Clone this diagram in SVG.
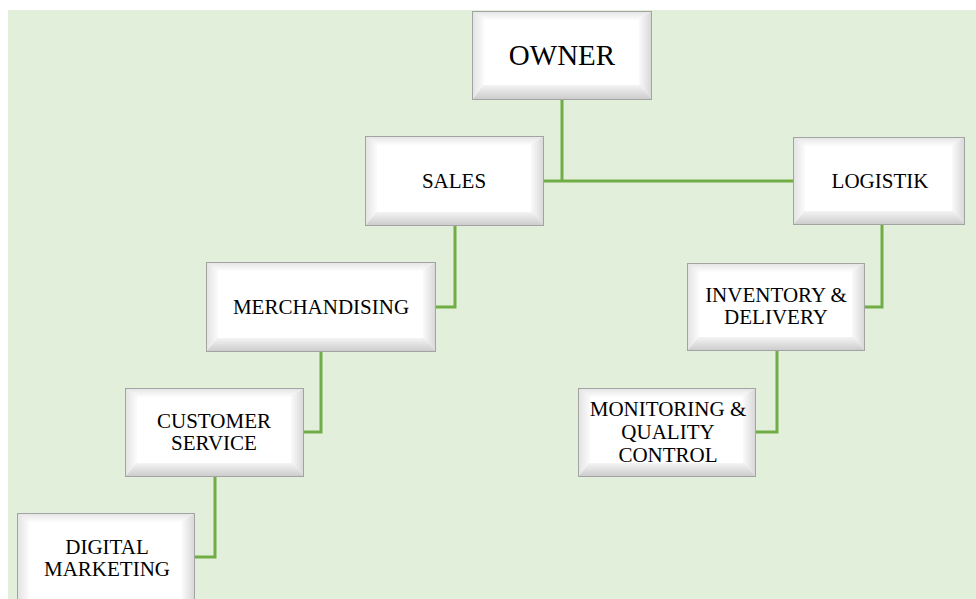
<svg xmlns="http://www.w3.org/2000/svg" width="976" height="599" viewBox="0 0 976 599">
<defs>
<linearGradient id="gTop" x1="0" y1="0" x2="0" y2="1"><stop offset="0" stop-color="#e6e6e6"/><stop offset="1" stop-color="#fdfdfd"/></linearGradient>
<linearGradient id="gBot" x1="0" y1="0" x2="0" y2="1"><stop offset="0" stop-color="#f4f4f4"/><stop offset="1" stop-color="#cdcdcd"/></linearGradient>
<linearGradient id="gLeft" x1="0" y1="0" x2="1" y2="0"><stop offset="0" stop-color="#e4e4e4"/><stop offset="1" stop-color="#fbfbfb"/></linearGradient>
<linearGradient id="gRight" x1="0" y1="0" x2="1" y2="0"><stop offset="0" stop-color="#fafafa"/><stop offset="1" stop-color="#d9d9d9"/></linearGradient>
</defs>
<style>
.bg{fill:#e2efda}
.frame{fill:#e0e0e0;stroke:#a3a3a3;stroke-width:1}
.top{fill:url(#gTop)}
.left{fill:url(#gLeft)}
.right{fill:url(#gRight)}
.bot{fill:url(#gBot)}
.face{fill:#ffffff}
.lbl{font-family:"Liberation Serif","Times New Roman",serif;font-size:21px;fill:#000;text-anchor:middle}
.big{font-size:29px}
.conn{fill:none;stroke:#70ad47;stroke-width:3}
</style>
<rect x="0" y="0" width="976" height="599" fill="#ffffff"/>
<rect class="bg" x="8" y="10" width="968" height="589"/>
<g id="connectors">
<path class="conn" d="M562 99V181M543 181H793"/>
<path class="conn" d="M455 226V307H435"/>
<path class="conn" d="M321 352V432H303"/>
<path class="conn" d="M215 477V557H195"/>
<path class="conn" d="M882 225V307H864"/>
<path class="conn" d="M777 351V432H755"/>
</g>
<g id="owner">
<rect class="frame" x="472.5" y="11.5" width="179" height="88"/>
<polygon class="top" points="473,12 651,12 639,20 484,20"/>
<polygon class="left" points="473,12 484,20 484,85 473,99"/>
<polygon class="right" points="651,12 651,99 639,85 639,20"/>
<polygon class="bot" points="473,99 484,85 639,85 651,99"/>
<rect class="face" x="484" y="20" width="155" height="65"/>
<text class="lbl big" x="562" y="65">OWNER</text>
</g>
<g id="sales">
<rect class="frame" x="365.5" y="136.5" width="178" height="89"/>
<polygon class="top" points="366,137 543,137 531,145 377,145"/>
<polygon class="left" points="366,137 377,145 377,212 366,225"/>
<polygon class="right" points="543,137 543,225 531,212 531,145"/>
<polygon class="bot" points="366,225 377,212 531,212 543,225"/>
<rect class="face" x="377" y="145" width="154" height="67"/>
<text class="lbl" x="454" y="188">SALES</text>
</g>
<g id="logistik">
<rect class="frame" x="793.5" y="137.5" width="171" height="87"/>
<polygon class="top" points="794,138 964,138 952,146 805,146"/>
<polygon class="left" points="794,138 805,146 805,211 794,224"/>
<polygon class="right" points="964,138 964,224 952,211 952,146"/>
<polygon class="bot" points="794,224 805,211 952,211 964,224"/>
<rect class="face" x="805" y="146" width="147" height="65"/>
<text class="lbl" x="880" y="188">LOGISTIK</text>
</g>
<g id="merchandising">
<rect class="frame" x="206.5" y="262.5" width="229" height="89"/>
<polygon class="top" points="207,263 435,263 423,271 218,271"/>
<polygon class="left" points="207,263 218,271 218,338 207,351"/>
<polygon class="right" points="435,263 435,351 423,338 423,271"/>
<polygon class="bot" points="207,351 218,338 423,338 435,351"/>
<rect class="face" x="218" y="271" width="205" height="67"/>
<text class="lbl" x="321" y="314">MERCHANDISING</text>
</g>
<g id="inventory">
<rect class="frame" x="687.5" y="263.5" width="177" height="87"/>
<polygon class="top" points="688,264 864,264 852,272 699,272"/>
<polygon class="left" points="688,264 699,272 699,337 688,350"/>
<polygon class="right" points="864,264 864,350 852,337 852,272"/>
<polygon class="bot" points="688,350 699,337 852,337 864,350"/>
<rect class="face" x="699" y="272" width="153" height="65"/>
<text class="lbl" x="776" y="302">INVENTORY &amp;</text>
<text class="lbl" x="776" y="324">DELIVERY</text>
</g>
<g id="customer-service">
<rect class="frame" x="125.5" y="388.5" width="178" height="88"/>
<polygon class="top" points="126,389 303,389 291,397 137,397"/>
<polygon class="left" points="126,389 137,397 137,463 126,476"/>
<polygon class="right" points="303,389 303,476 291,463 291,397"/>
<polygon class="bot" points="126,476 137,463 291,463 303,476"/>
<rect class="face" x="137" y="397" width="154" height="66"/>
<text class="lbl" x="214" y="428">CUSTOMER</text>
<text class="lbl" x="214" y="450">SERVICE</text>
</g>
<g id="monitoring">
<rect class="frame" x="578.5" y="388.5" width="177" height="88"/>
<polygon class="top" points="579,389 755,389 743,397 590,397"/>
<polygon class="left" points="579,389 590,397 590,463 579,476"/>
<polygon class="right" points="755,389 755,476 743,463 743,397"/>
<polygon class="bot" points="579,476 590,463 743,463 755,476"/>
<rect class="face" x="590" y="397" width="153" height="66"/>
<text class="lbl" x="668" y="416">MONITORING &amp;</text>
<text class="lbl" x="668" y="439">QUALITY</text>
<text class="lbl" x="668" y="462">CONTROL</text>
</g>
<g id="digital-marketing">
<rect class="frame" x="17.5" y="513.5" width="177" height="88"/>
<polygon class="top" points="18,514 194,514 182,522 29,522"/>
<polygon class="left" points="18,514 29,522 29,599 18,599"/>
<polygon class="right" points="194,514 194,599 182,599 182,522"/>
<rect class="face" x="29" y="522" width="153" height="77"/>
<text class="lbl" x="107" y="554">DIGITAL</text>
<text class="lbl" x="107" y="576">MARKETING</text>
</g>
</svg>
